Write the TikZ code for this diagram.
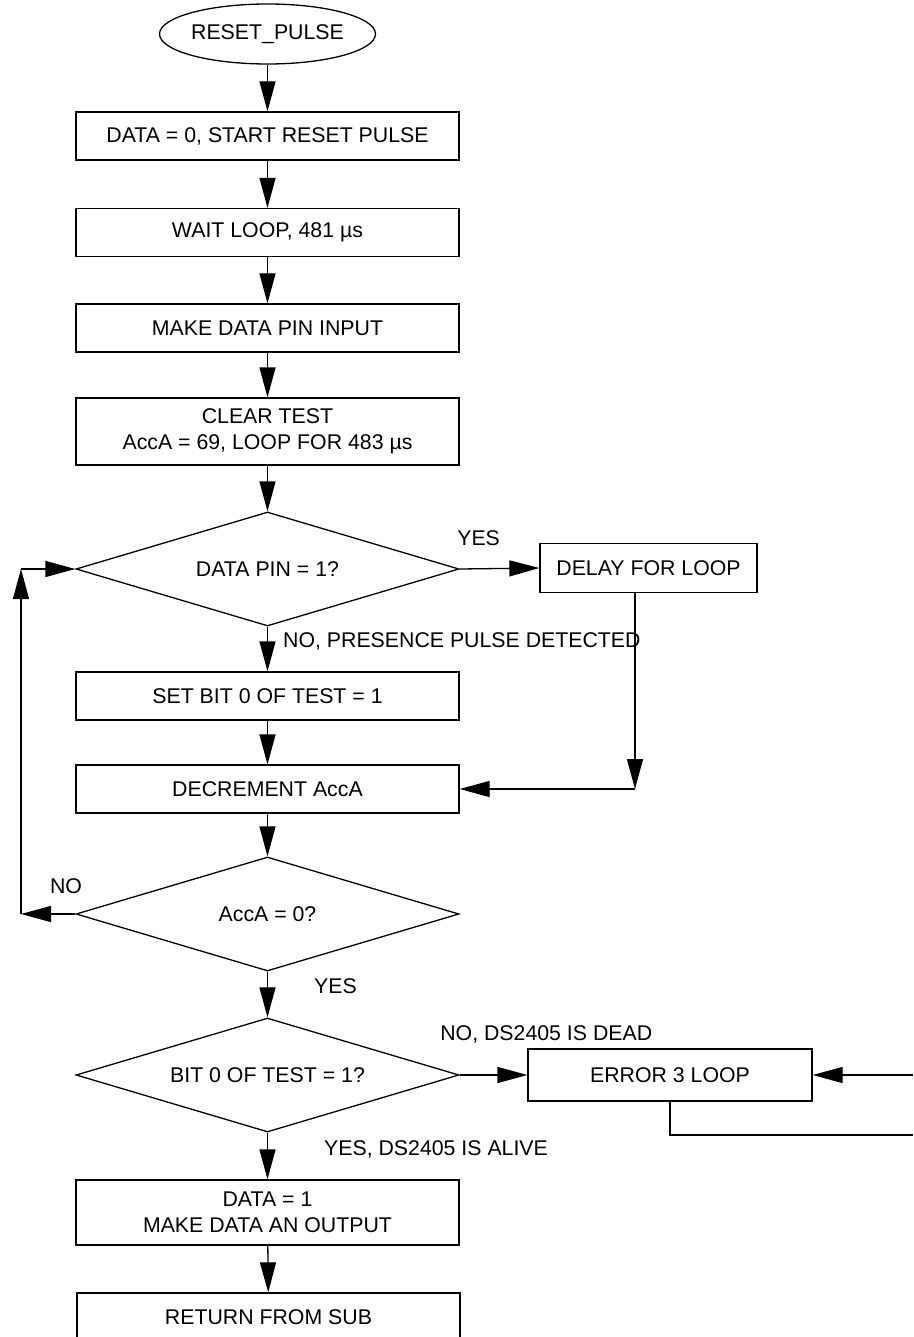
\documentclass[tikz,border=0pt]{standalone}
\usepackage{fontspec}
\setmainfont{Liberation Sans}
\usetikzlibrary{arrows.meta,shapes.geometric}
\begin{document}
\begin{tikzpicture}
   [x=1pt,y=1pt,line width=1.3pt,
   every node/.style={font=\fontsize{21.3}{26}\selectfont},
   flowbox/.style={draw,rectangle,minimum width=383pt,minimum height=48pt,align=center,inner sep=2pt},
   flowtest/.style={draw,diamond,shape aspect=3.36,minimum width=383pt,minimum height=114pt,inner sep=2pt},
   flowstart/.style={draw,ellipse,minimum width=192pt,minimum height=60pt,inner sep=0pt},
   flowarrow/.style={-{Triangle[length=30pt,width=16pt]}},
   flowlabel/.style={inner sep=0pt,anchor=base west}]
    \useasboundingbox (0,0) rectangle (913,-1337);
    % main column
    \node[flowstart] (start) at (267.5,-34) {RESET\_PULSE};
    \node[flowbox] (clear) at (267.5,-136) {DATA = 0, START RESET PULSE};
    \node[flowbox] (wait) at (267.5,-232.5) {WAIT LOOP, 481 µs};
    \node[flowbox] (input) at (267.5,-328) {MAKE DATA PIN INPUT};
    \node[flowbox,minimum height=67pt] (test) at (267.5,-431.5) {CLEAR TEST\\AccA = 69, LOOP FOR 483 µs};
    \node[flowtest] (pin) at (267.5,-569) {DATA PIN = 1?};
    \node[flowbox] (setbit) at (267.5,-696) {SET BIT 0 OF TEST = 1};
    \node[flowbox] (dec) at (267.5,-789) {DECREMENT AccA};
    \node[flowtest] (zero) at (267.5,-914) {AccA = 0?};
    \node[flowtest] (bit) at (267.5,-1075) {BIT 0 OF TEST = 1?};
    \node[flowbox,minimum height=65pt] (output) at (267.5,-1212.5) {DATA = 1\\MAKE DATA AN OUTPUT};
    \node[flowbox,minimum height=49pt] (ret) at (268.5,-1317.5) {RETURN FROM SUB};
    % side boxes
    \node[flowbox,minimum width=217pt,minimum height=49pt] (delay) at (648.5,-568) {DELAY FOR LOOP};
    \node[flowbox,minimum width=284pt,minimum height=52pt] (error) at (670,-1075) {ERROR 3 LOOP};
    \coordinate (dcorner) at (635,-789);
    \coordinate (lbot) at (21,-914);
    \coordinate (ltop) at (21,-569);
    \coordinate (ein) at (913,-1075);
    \coordinate (eout) at (913,-1135);
    % connectors
    \draw[flowarrow] (start) -- (clear);
    \draw[flowarrow] (clear) -- (wait);
    \draw[flowarrow] (wait) -- (input);
    \draw[flowarrow] (input) -- (test);
    \draw[flowarrow] (test) -- (pin);
    \draw[flowarrow] (pin.east) -- node[flowlabel,pos=0,xshift=-3pt,yshift=24pt] {YES} (delay.west);
    \draw[flowarrow] (pin.south) -- node[flowlabel,pos=0,xshift=15pt,yshift=-21pt] {NO, PRESENCE PULSE DETECTED} (setbit.north);
    \draw[flowarrow] (setbit) -- (dec);
    \draw[flowarrow] (delay.south -| dcorner) -- (dcorner);
    \draw[flowarrow] (dcorner) -- (dec.east);
    \draw[flowarrow] (dec) -- (zero);
    \draw[flowarrow] (zero.west) -- node[flowlabel,pos=0,xshift=-26pt,yshift=21pt] {NO} (lbot);
    \draw[flowarrow] (lbot) -- (ltop);
    \draw[flowarrow] (ltop) -- (pin.west);
    \draw[flowarrow] (zero.south) -- node[flowlabel,pos=0,xshift=46pt,yshift=-22pt] {YES} (bit.north);
    \draw[flowarrow] (bit.east) -- node[flowlabel,pos=0,xshift=-20pt,yshift=35pt] {NO, DS2405 IS DEAD} (error.west);
    \draw[flowarrow] (ein) -- (error.east);
    \draw (error.south) |- (eout);
    \draw[flowarrow] (bit.south) -- node[flowlabel,pos=0,xshift=56pt,yshift=-23pt] {YES, DS2405 IS ALIVE} (output.north);
    \draw[flowarrow] (output) -- (ret);
\end{tikzpicture}
\end{document}
